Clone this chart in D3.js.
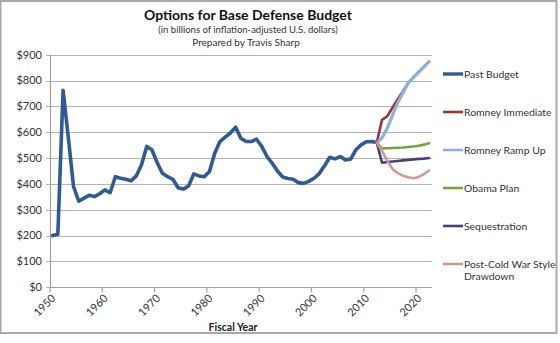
<!DOCTYPE html>
<html>
<head>
<meta charset="utf-8">
<script src="https://cdn.jsdelivr.net/npm/d3@7"></script>
<style>
  body { margin: 0; background: #fff; }
  svg { display: block; font-family: Lato, "Open Sans", sans-serif; }
</style>
</head>
<body>
<svg id="chart" width="560" height="343"></svg>
<script>
// past budget, one value per fiscal year starting 1950 (billions, inflation-adjusted)
var pastStart = 1950;
var pastBudget = [200, 205, 762, 580, 390, 333, 345, 356, 351, 362,
  377, 366, 428, 422, 418, 412, 431, 474, 545, 532,
  482, 441, 428, 418, 385, 380, 392, 439, 431, 428,
  448, 519, 564, 581, 597, 620, 577, 564, 564, 573,
  545, 506, 480, 450, 427, 421, 418, 405, 402, 410,
  422, 440, 470, 503, 497, 506, 493, 496, 532, 551,
  563, 564, 560];

// the options all start from FY2012
var planYears = [2012, 2013, 2014, 2015, 2016, 2017, 2018, 2019, 2020, 2021, 2022];
var romneyImmediate = [560, 648, 662, 695, 728, 758, 790, 812, 833, 853, 873];
var romneyRampUp = [560, 578, 615, 665, 715, 752, 790, 812, 833, 853, 873];
var obamaPlan = [560, 537, 538, 539, 540, 541, 543, 545, 548, 552, 557];
var sequestration = [560, 482, 485, 487, 489, 491, 493, 495, 497, 498, 500];
var postColdWar = [560, 528, 490, 458, 442, 432, 426, 422, 427, 438, 452];

var yTicks = [0, 100, 200, 300, 400, 500, 600, 700, 800, 900];
var xTicks = [1950, 1960, 1970, 1980, 1990, 2000, 2010, 2020];
var lastYear = 2022;

var svg = d3.select("#chart");

// chart frame
svg.append("rect")
  .attr("x", 0.5).attr("y", 1)
  .attr("width", 556).attr("height", 332)
  .attr("fill", "#fff")
  .attr("stroke", "#a9a9a9")
  .attr("stroke-width", 2);

var plotLeft = 50, plotRight = 431.7, plotTop = 54.7, plotBottom = 287.3;

var cats = d3.range(pastStart, lastYear + 1);
var x = d3.scalePoint()
  .domain(cats)
  .range([plotLeft, plotRight])
  .padding(0.5);
var step = x.step();

var y = d3.scaleLinear()
  .domain([0, 900])
  .range([plotBottom, plotTop]);

// grid
svg.append("g")
  .selectAll("line")
  .data(yTicks)
  .join("line")
  .attr("x1", plotLeft - 4).attr("x2", plotRight)
  .attr("y1", function (d) { return Math.round(y(d)) + 0.5; })
  .attr("y2", function (d) { return Math.round(y(d)) + 0.5; })
  .attr("stroke", "#b4b4b4")
  .attr("stroke-width", 1.2);

svg.append("g")
  .selectAll("text")
  .data(yTicks)
  .join("text")
  .attr("x", plotLeft - 8)
  .attr("y", function (d) { return y(d); })
  .attr("dy", "0.35em")
  .attr("text-anchor", "end")
  .attr("font-size", 11)
  .attr("fill", "#333")
  .text(function (d) { return "$" + d; });

// axes lines
svg.append("line")
  .attr("x1", plotLeft + 0.5).attr("x2", plotLeft + 0.5)
  .attr("y1", plotTop).attr("y2", plotBottom)
  .attr("stroke", "#a0a0a0").attr("stroke-width", 1.2);

svg.append("line")
  .attr("x1", plotLeft).attr("x2", plotRight)
  .attr("y1", Math.round(plotBottom) + 0.5).attr("y2", Math.round(plotBottom) + 0.5)
  .attr("stroke", "#a0a0a0").attr("stroke-width", 1.2);

// category ticks sit on the left edge of each decade's band
var xt = svg.append("g");
xt.selectAll("line")
  .data(xTicks)
  .join("line")
  .attr("x1", function (d) { return x(d) - step / 2; })
  .attr("x2", function (d) { return x(d) - step / 2; })
  .attr("y1", plotBottom).attr("y2", plotBottom + 5)
  .attr("stroke", "#a0a0a0").attr("stroke-width", 1.2);

xt.selectAll("text")
  .data(xTicks)
  .join("text")
  .attr("transform", function (d) {
    return "translate(" + (x(d) + 1) + "," + (plotBottom + 9) + ") rotate(-45)";
  })
  .attr("text-anchor", "end")
  .attr("dy", "0.35em")
  .attr("font-size", 11)
  .attr("fill", "#333")
  .text(function (d) { return d; });

// series
var series = [
  { name: "Past Budget", color: "#2f5a95", width: 3.6,
    pts: pastBudget.map(function (v, i) { return [pastStart + i, v]; }) },
  { name: "Romney Immediate", color: "#9a3432", width: 2.6,
    pts: planYears.map(function (yr, i) { return [yr, romneyImmediate[i]]; }) },
  { name: "Romney Ramp Up", color: "#8fb0da", width: 3.2,
    pts: planYears.map(function (yr, i) { return [yr, romneyRampUp[i]]; }) },
  { name: "Obama Plan", color: "#78a23a", width: 2.6,
    pts: planYears.map(function (yr, i) { return [yr, obamaPlan[i]]; }) },
  { name: "Sequestration", color: "#4a3d82", width: 2.6,
    pts: planYears.map(function (yr, i) { return [yr, sequestration[i]]; }) },
  { name: "Post-Cold War Style|Drawdown", color: "#d29693", width: 2.6,
    pts: planYears.map(function (yr, i) { return [yr, postColdWar[i]]; }) }
];

var line = d3.line()
  .x(function (d) { return x(d[0]); })
  .y(function (d) { return y(d[1]); });

svg.append("g")
  .selectAll("path")
  .data(series)
  .join("path")
  .attr("d", function (s) { return line(s.pts); })
  .attr("fill", "none")
  .attr("stroke", function (s) { return s.color; })
  .attr("stroke-width", function (s) { return s.width; })
  .attr("stroke-linejoin", "round")
  .attr("stroke-linecap", "round");

// legend
var legendY = [74, 112, 150, 188, 226, 264];
var lg = svg.append("g")
  .selectAll("g")
  .data(series)
  .join("g")
  .attr("transform", function (s, i) { return "translate(443," + legendY[i] + ")"; });

lg.append("line")
  .attr("x1", 0).attr("x2", 20)
  .attr("stroke", function (s) { return s.color; })
  .attr("stroke-width", function (s, i) { return i == 0 ? 3.4 : 2.6; });

lg.append("text")
  .attr("x", 21)
  .attr("font-size", 10.4)
  .attr("fill", "#333")
  .selectAll("tspan")
  .data(function (s) { return s.name.split("|"); })
  .join("tspan")
  .attr("x", 21)
  .attr("dy", function (d, i) { return i == 0 ? "0.35em" : "1.2em"; })
  .text(function (d) { return d; });

// titles
svg.append("text")
  .attr("x", 248).attr("y", 20)
  .attr("text-anchor", "middle")
  .attr("font-size", 14)
  .attr("font-weight", "bold")
  .attr("fill", "#111")
  .text("Options for Base Defense Budget");

svg.append("text")
  .attr("x", 248).attr("y", 33)
  .attr("text-anchor", "middle")
  .attr("font-size", 9.5)
  .attr("fill", "#333")
  .text("(in billions of inflation-adjusted U.S. dollars)");

svg.append("text")
  .attr("x", 246).attr("y", 46)
  .attr("text-anchor", "middle")
  .attr("font-size", 10)
  .attr("fill", "#333")
  .text("Prepared by Travis Sharp");

svg.append("text")
  .attr("x", 233).attr("y", 331)
  .attr("text-anchor", "middle")
  .attr("font-size", 10.5)
  .attr("font-weight", "bold")
  .attr("fill", "#222")
  .text("Fiscal Year");
</script>
</body>
</html>
